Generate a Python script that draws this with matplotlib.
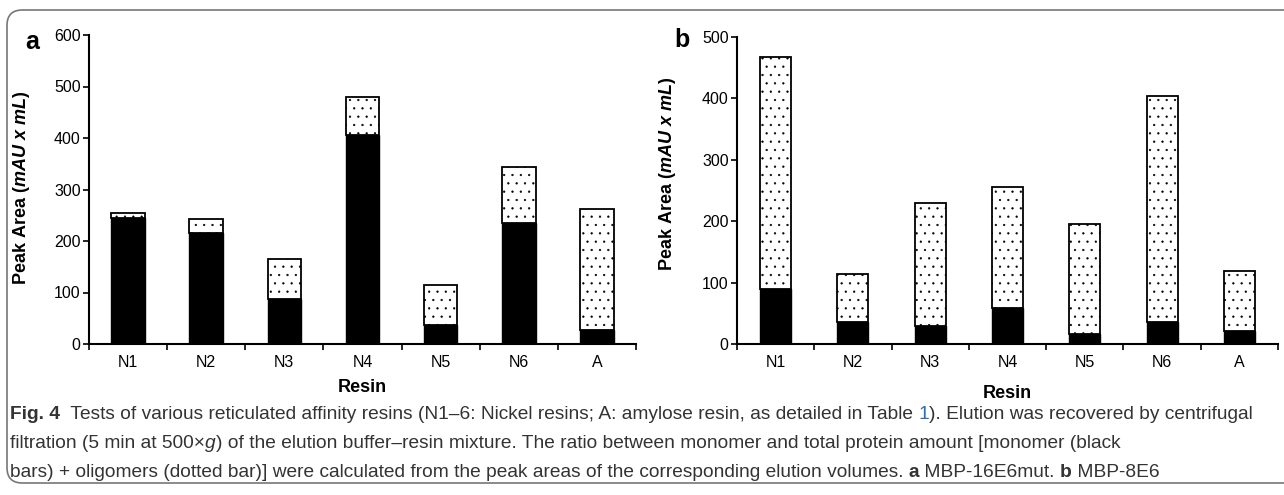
import numpy as np
import matplotlib
matplotlib.use("Agg")
import matplotlib.pyplot as plt
from matplotlib.patches import FancyBboxPatch

# data
resins = ["N1", "N2", "N3", "N4", "N5", "N6", "A"]
a_total = [255, 242, 166, 479, 115, 344, 263]
a_monomer = [244, 215, 87, 406, 37, 235, 27]
b_total = [468, 114, 230, 256, 195, 404, 119]
b_monomer = [90, 36, 29, 58, 16, 36, 21]

plt.rcParams["font.family"] = ["Liberation Sans", "DejaVu Sans"]
plt.rcParams["mathtext.fontset"] = "custom"
plt.rcParams["mathtext.it"] = "Liberation Sans:italic:bold"
plt.rcParams["mathtext.rm"] = "Liberation Sans:bold"
plt.rcParams["hatch.linewidth"] = 0.4
plt.rcParams["hatch.color"] = "#222222"

W, H = 1284, 495
fig = plt.figure(figsize=(W / 100, H / 100), dpi=100)

# rounded frame around the figure
frame = FancyBboxPatch((7 / W, 12 / H), 1.2, 473 / H,
                       boxstyle="round,pad=0,rounding_size=0.012",
                       transform=fig.transFigure, fill=False,
                       edgecolor="#777777", linewidth=1.2, mutation_aspect=W / H)
fig.patches.append(frame)


def panel(box, total, mono, ymax, bw, letter, letter_xy, resin_y, ylab_y):
    l, t, r, b = box
    ax = fig.add_axes([l / W, 1 - b / H, (r - l) / W, (b - t) / H])
    x = np.arange(len(resins))
    oligo = np.array(total) - np.array(mono)
    ax.bar(x, mono, width=bw, color="black", edgecolor="black", linewidth=1)
    ax.bar(x, oligo, bottom=mono, width=bw, color="white", edgecolor="black",
           linewidth=1.3, hatch="..")
    ax.set_xlim(-0.5, len(resins) - 0.5)
    ax.set_ylim(0, ymax)
    ax.set_yticks(np.arange(0, ymax + 1, 100))
    ax.set_xticks(x)
    ax.set_xticklabels(resins)
    ax.set_xticks(np.arange(-0.5, len(resins), 1), minor=True)
    ax.tick_params(axis="x", which="major", length=0, labelsize=11.5, pad=8)
    ax.tick_params(axis="x", which="minor", length=4.5, width=1.2, direction="out")
    ax.tick_params(axis="y", length=4.5, width=1.2, direction="out", labelsize=11.5, pad=1.5)
    for s in ["top", "right"]:
        ax.spines[s].set_visible(False)
    for s in ["left", "bottom"]:
        ax.spines[s].set_linewidth(1.5)
    ax.set_ylabel(r"Peak Area $\mathit{(mAU\ x\ mL)}$", fontsize=13, fontweight="bold")
    ax.yaxis.set_label_coords(ylab_y[0], ylab_y[1], transform=fig.transFigure)
    fig.text((l + r) / 2 / W, 1 - resin_y / H, "Resin", ha="center", va="center",
             fontsize=13, fontweight="bold")
    fig.text(letter_xy[0] / W, 1 - letter_xy[1] / H, letter, fontsize=18,
             fontweight="bold", ha="center", va="center")
    return ax


panel((89, 35, 636, 344), a_total, a_monomer, 600, 0.43, "a", (32, 42), 387,
      (32 / W, 1 - 188 / H))
panel((737, 37, 1278, 344), b_total, b_monomer, 500, 0.40, "b", (682, 40), 393,
      (678 / W, 1 - 174 / H))

# caption, drawn piece by piece
cap_font = ["Liberation Sans Narrow", "Liberation Sans", "DejaVu Sans"]
ink = "#333333"
lines = [
    [("Fig. 4", "bold", "normal", ink),
     ("  Tests of various reticulated affinity resins (N1–6: Nickel resins; A: amylose resin, as detailed in Table ", "normal", "normal", ink),
     ("1", "normal", "normal", "#2a6ebb"),
     ("). Elution was recovered by centrifugal", "normal", "normal", ink)],
    [("filtration (5 min at 500×", "normal", "normal", ink),
     ("g", "normal", "italic", ink),
     (") of the elution buffer–resin mixture. The ratio between monomer and total protein amount [monomer (black", "normal", "normal", ink)],
    [("bars) + oligomers (dotted bar)] were calculated from the peak areas of the corresponding elution volumes. ", "normal", "normal", ink),
     ("a", "bold", "normal", ink),
     (" MBP-16E6mut. ", "normal", "normal", ink),
     ("b", "bold", "normal", ink),
     (" MBP-8E6", "normal", "normal", ink)],
]
line_base = [419, 448, 477]
renderer = fig.canvas.get_renderer()


def draw_line(pieces, y, size):
    x = 10
    texts = []
    for s, w, st, c in pieces:
        t = fig.text(x / W, 1 - y / H, s, fontsize=size, fontweight=w, fontstyle=st,
                     color=c, family=cap_font, va="baseline", ha="left")
        x = t.get_window_extent(renderer).x1
        texts.append(t)
    return x, texts


# fit the first line to the reference width
w0, tt = draw_line(lines[0], line_base[0], 10)
for t in tt:
    t.remove()
size = 10 * (1262 - 10) / (w0 - 10)
for pieces, y in zip(lines, line_base):
    draw_line(pieces, y, size)

fig.savefig("out.png", dpi=100)
